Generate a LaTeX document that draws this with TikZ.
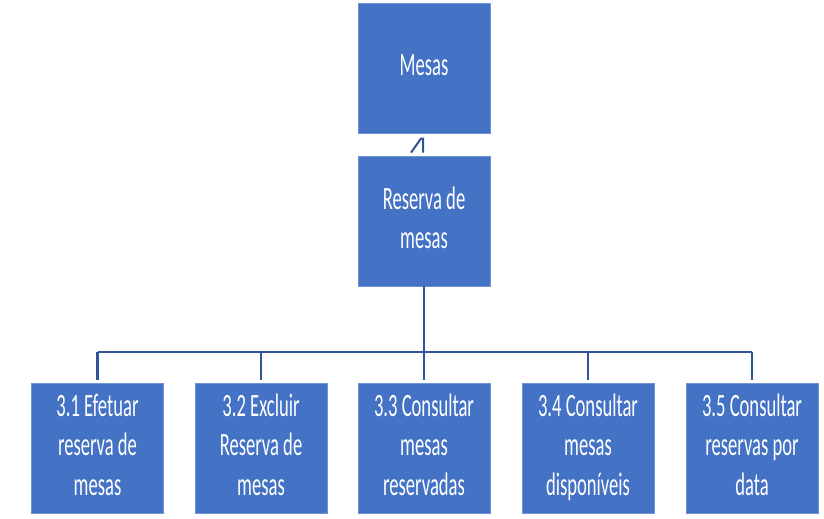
\documentclass[tikz,border=0pt]{standalone}
\usepackage{fontspec}
\setmainfont{Carlito}
\usepackage{graphicx}
\definecolor{boxblue}{HTML}{4472C4}
\definecolor{boxedge}{HTML}{6F93D3}
\definecolor{linkblue}{HTML}{2F5597}
\newcommand{\boxlabel}[1]{\scalebox{1}[1.75]{\begin{tabular}{@{}c@{}}#1\end{tabular}}}
\begin{document}
\begin{tikzpicture}[x=1pt,y=-1pt,
        task/.style={draw=boxedge,line width=0.8pt,fill=boxblue,text=white,
            minimum width=132pt,minimum height=130pt,inner sep=0pt,
            font=\fontsize{18.6}{22.8}\selectfont},
        link/.style={draw=linkblue,line width=2.4pt}]
            \useasboundingbox (0,0) rectangle (824,519);
            \node[task] (mesas) at (424,68) {\boxlabel{Mesas}};
            \node[task] (res) at (424,221) {\boxlabel{Reserva de\\mesas}};
            \node[task] (t1) at (97.5,448) {\boxlabel{3.1 Efetuar\\reserva de\\mesas}};
            \node[task] (t2) at (261,448) {\boxlabel{3.2 Excluir\\Reserva de\\mesas}};
            \node[task] (t3) at (424,448) {\boxlabel{3.3 Consultar\\mesas\\reservadas}};
            \node[task] (t4) at (588,448) {\boxlabel{3.4 Consultar\\mesas\\dispon\'iveis}};
            \node[task] (t5) at (752,448) {\boxlabel{3.5 Consultar\\reservas por\\data}};
            \coordinate (bar) at (424,352);
            \draw[link] (res.south) -- (bar);
            \draw[link] (bar -| t1) -- (bar -| t5);
            \foreach \t in {t1,t2,t3,t4,t5}
                \draw[link,shorten >=3pt] (bar -| \t) -- (\t.north);
            % cut-off arrow tip under Mesas
            \draw[link,line width=2pt] ([xshift=-13pt,yshift=3pt]res.north) -- ([xshift=-3pt,yshift=17pt]res.north)
                -- ([xshift=-1pt,yshift=17pt]res.north) -- ([xshift=-1pt,yshift=3pt]res.north);
        \end{tikzpicture}
\end{document}
